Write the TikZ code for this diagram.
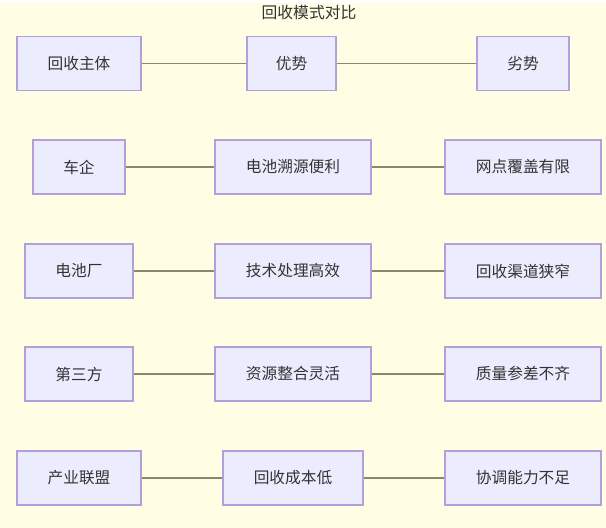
\documentclass[tikz,border=0pt]{standalone}
\usepackage{fontspec}
\setmainfont{Noto Sans CJK SC}
\definecolor{bgc}{HTML}{FFFDE3}
\definecolor{nodefill}{HTML}{ECECFF}
\definecolor{nodeline}{HTML}{B3A0DB}
\definecolor{edgec}{HTML}{8A8A6A}
\definecolor{txt}{HTML}{333333}
\begin{document}
\begin{tikzpicture}[x=1pt,y=-1pt,
  box/.style={draw=nodeline, fill=nodefill, line width=1.2pt, minimum height=54pt, inner sep=0pt, text=txt, font=\fontsize{15.7}{18}\selectfont},
  link/.style={draw=edgec, line width=1.5pt}]
\useasboundingbox (0,0) rectangle (606,528);
\fill[bgc] (0,3) rectangle (606,528);
\node[text=txt, font=\fontsize{15.8}{18}\selectfont] (title) at (309,13) {回收模式对比};
% row 1
\node[box, minimum width=124pt] (a1) at (79,63.5) {回收主体};
\node[box, minimum width=89pt] (b1) at (291.5,63.5) {优势};
\node[box, minimum width=92pt] (c1) at (523,63.5) {劣势};
% row 2
\node[box, minimum width=92pt] (a2) at (79,167) {车企};
\node[box, minimum width=156pt] (b2) at (293,167) {电池溯源便利};
\node[box, minimum width=156pt] (c2) at (523,167) {网点覆盖有限};
% row 3
\node[box, minimum width=108pt] (a3) at (79,271) {电池厂};
\node[box, minimum width=156pt] (b3) at (293,271) {技术处理高效};
\node[box, minimum width=156pt] (c3) at (523,271) {回收渠道狭窄};
% row 4
\node[box, minimum width=108pt] (a4) at (79,374) {第三方};
\node[box, minimum width=156pt] (b4) at (293,374) {资源整合灵活};
\node[box, minimum width=156pt] (c4) at (523,374) {质量参差不齐};
% row 5
\node[box, minimum width=124pt] (a5) at (79,478) {产业联盟};
\node[box, minimum width=140pt] (b5) at (293,478) {回收成本低};
\node[box, minimum width=156pt] (c5) at (523,478) {协调能力不足};
\foreach \r in {1,...,5}{
  \draw[link] (a\r) -- (b\r);
  \draw[link] (b\r) -- (c\r);
}
\end{tikzpicture}
\end{document}
